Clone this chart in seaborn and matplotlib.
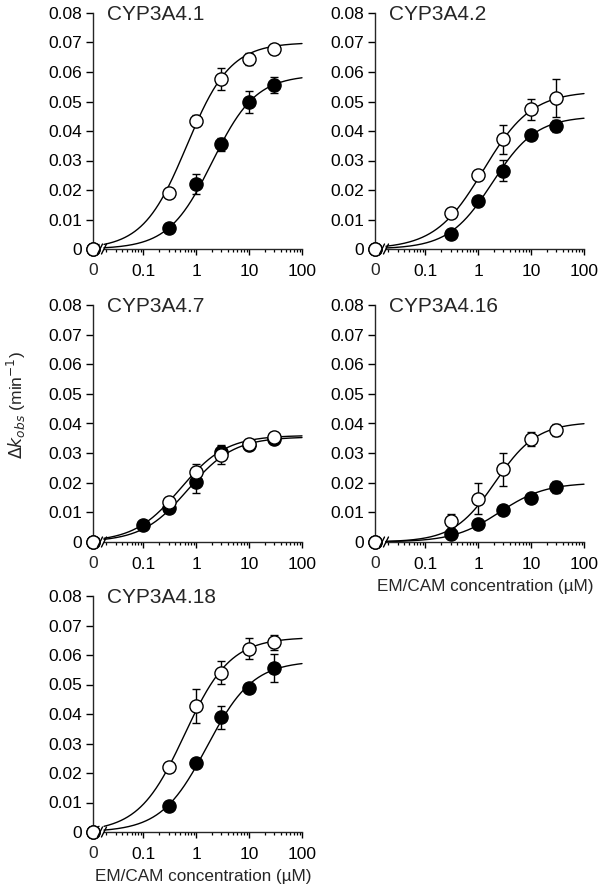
import numpy as np
import pandas as pd
import matplotlib
matplotlib.use("Agg")
import matplotlib.pyplot as plt
import seaborn as sns
from matplotlib.lines import Line2D
from matplotlib.ticker import LogLocator, NullFormatter

# ---------------- data ----------------
panel_names = ["CYP3A4.1", "CYP3A4.2", "CYP3A4.7", "CYP3A4.16", "CYP3A4.18"]
conc = [0, 0.3, 1, 3, 10, 30]
conc_47_filled = [0, 0.1, 0.3, 1, 3, 10, 30]

open_41 = [0, 0.0190, 0.0435, 0.0576, 0.0643, 0.0677]
open_41_err = [0, 0.0010, 0.0018, 0.0036, 0.0020, 0.0015]
filled_41 = [0, 0.0070, 0.0219, 0.0355, 0.0499, 0.0556]
filled_41_err = [0, 0.0008, 0.0034, 0.0022, 0.0038, 0.0028]

open_42 = [0, 0.0121, 0.0252, 0.0372, 0.0473, 0.0513]
open_42_err = [0, 0.0012, 0.0012, 0.0050, 0.0035, 0.0064]
filled_42 = [0, 0.0051, 0.0162, 0.0266, 0.0385, 0.0417]
filled_42_err = [0, 0.0015, 0.0010, 0.0035, 0.0010, 0.0020]

open_47 = [0, 0.0135, 0.0236, 0.0293, 0.0332, 0.0355]
open_47_err = [0, 0.0012, 0.0027, 0.0030, 0.0010, 0.0010]
filled_47 = [0, 0.0059, 0.0115, 0.0202, 0.0304, 0.0328, 0.0348]
filled_47_err = [0, 0.0008, 0.0012, 0.0037, 0.0025, 0.0008, 0.0008]

open_416 = [0, 0.0071, 0.0146, 0.0245, 0.0347, 0.0377]
open_416_err = [0, 0.0025, 0.0052, 0.0055, 0.0024, 0.0020]
filled_416 = [0, 0.0026, 0.0060, 0.0107, 0.0149, 0.0186]
filled_416_err = [0, 0.0010, 0.0010, 0.0010, 0.0010, 0.0020]

open_418 = [0, 0.0222, 0.0427, 0.0540, 0.0622, 0.0643]
open_418_err = [0, 0.0012, 0.0057, 0.0038, 0.0035, 0.0026]
filled_418 = [0, 0.0087, 0.0233, 0.0389, 0.0489, 0.0557]
filled_418_err = [0, 0.0012, 0.0010, 0.0039, 0.0010, 0.0047]

# fitted Hill curve parameters (Vmax, K, n) for open / filled symbols
fit_open = {"CYP3A4.1": (0.0700, 0.66, 1.05), "CYP3A4.2": (0.0535, 1.25, 0.95),
            "CYP3A4.7": (0.0360, 0.50, 1.00), "CYP3A4.16": (0.0405, 2.10, 1.10),
            "CYP3A4.18": (0.0660, 0.60, 1.00)}
fit_filled = {"CYP3A4.1": (0.0590, 2.00, 1.05), "CYP3A4.2": (0.0450, 1.85, 1.05),
              "CYP3A4.7": (0.0355, 0.70, 1.00), "CYP3A4.16": (0.0200, 2.50, 1.00),
              "CYP3A4.18": (0.0580, 1.60, 1.00)}

panel_data = {
    "CYP3A4.1": (conc, open_41, open_41_err, conc, filled_41, filled_41_err),
    "CYP3A4.2": (conc, open_42, open_42_err, conc, filled_42, filled_42_err),
    "CYP3A4.7": (conc, open_47, open_47_err, conc_47_filled, filled_47, filled_47_err),
    "CYP3A4.16": (conc, open_416, open_416_err, conc, filled_416, filled_416_err),
    "CYP3A4.18": (conc, open_418, open_418_err, conc, filled_418, filled_418_err),
}

y_ticks = [0, 0.01, 0.02, 0.03, 0.04, 0.05, 0.06, 0.07, 0.08]
y_ticklabels = ["0", "0.01", "0.02", "0.03", "0.04", "0.05", "0.06", "0.07", "0.08"]
x_major = [0.1, 1, 10, 100]
x_majorlabels = ["0.1", "1", "10", "100"]
x_label = "EM/CAM concentration (µM)"
y_label = r"$\mathit{\Delta k}_{obs}$ (min$^{-1}$)"

# ---------------- style ----------------
sns.set_theme(style="ticks")
plt.rcParams["font.family"] = ["Liberation Sans", "DejaVu Sans"]
plt.rcParams["axes.linewidth"] = 1.0

W, H = 600, 889
fig = plt.figure(figsize=(W / 100, H / 100), dpi=100)


def hill(x, p):
    vmax, k, n = p
    x = np.asarray(x, dtype=float)
    return vmax * x ** n / (k ** n + x ** n)


XMIN = 0.018
# layout in pixels: (y-axis x, top y, bottom y, -, has x label)
layout = {
    "CYP3A4.1": (93, 13, 249, True, False),
    "CYP3A4.2": (375, 13, 249, False, False),
    "CYP3A4.7": (93, 305, 542, True, False),
    "CYP3A4.16": (375, 305, 542, False, True),
    "CYP3A4.18": (93, 596, 832, True, True),
}

for name in panel_names:
    yx, top, bot, _, has_xlabel = layout[name]
    hgt = bot - top
    ax0 = fig.add_axes([yx / W, 1 - bot / H, 6 / W, hgt / H])
    ax1 = fig.add_axes([(yx + 11) / W, 1 - bot / H, 198 / W, hgt / H])
    for ax in (ax0, ax1):
        ax.set_ylim(0, 0.08)
        ax.patch.set_alpha(0)
        for s in ("top", "right"):
            ax.spines[s].set_visible(False)
    ax0.spines["bottom"].set_visible(False)
    ax1.spines["left"].set_visible(False)
    ax0.set_xlim(0, 1)
    ax1.set_xscale("log")
    ax1.set_xlim(XMIN, 100)

    xo, yo, eo, xf, yf, ef = panel_data[name]
    po, pf = fit_open[name], fit_filled[name]

    # fitted curves
    xs = np.logspace(np.log10(XMIN), 2, 400)
    for p in (pf, po):
        sns.lineplot(x=xs, y=hill(xs, p), ax=ax1, color="black", linewidth=1.0,
                     zorder=1, clip_on=False)
        sns.lineplot(x=[0, 1], y=[0, float(hill(XMIN, p))], ax=ax0, color="black",
                     linewidth=1.0, zorder=1, clip_on=False)

    zo = 2
    for (xx, yy, ee, face) in ((xf, yf, ef, "black"), (xo, yo, eo, "white")):
        df = pd.DataFrame({"x": xx, "y": yy, "e": ee})
        pos = df[df.x > 0]
        zero = df[df.x == 0]
        ax1.errorbar(pos.x, pos.y, yerr=pos.e, fmt="none", ecolor="black",
                     elinewidth=1.0, capsize=3.2, capthick=1.0, zorder=zo, clip_on=False)
        sns.scatterplot(data=pos, x="x", y="y", ax=ax1, s=90, color=face,
                        edgecolor="black", linewidth=1.0, zorder=zo + 1, clip_on=False,
                        legend=False)
        sns.scatterplot(data=zero, x="x", y="y", ax=ax0, s=90, color=face,
                        edgecolor="black", linewidth=1.0, zorder=zo + 1, clip_on=False,
                        legend=False)
        zo += 2

    # y axis
    ax0.set_yticks(y_ticks)
    ax0.set_yticklabels(y_ticklabels, fontsize=12.5)
    ax0.tick_params(axis="y", length=5, width=1.0, pad=3, direction="out", colors="black")
    ax1.set_yticks([])
    # x axis
    ax0.set_xticks([0])
    ax0.set_xticklabels(["0"], fontsize=12.5)
    ax0.tick_params(axis="x", length=0, pad=10)
    ax1.set_xticks(x_major)
    ax1.set_xticklabels(x_majorlabels, fontsize=12.5)
    ax1.xaxis.set_minor_locator(LogLocator(base=10, subs=np.arange(2, 10)))
    ax1.xaxis.set_minor_formatter(NullFormatter())
    ax1.tick_params(axis="x", which="major", length=4.5, width=1.0, pad=6,
                    direction="out", colors="black")
    ax1.tick_params(axis="x", which="minor", length=2.2, width=0.9, direction="out",
                    colors="black")
    ax0.set_xlabel("")
    ax0.set_ylabel("")
    ax1.set_ylabel("")
    if has_xlabel:
        ax1.set_xlabel(x_label, fontsize=12.3, labelpad=5)
    else:
        ax1.set_xlabel("")

    ax1.text(3 / 198, 1 - 7 / hgt, name, transform=ax1.transAxes, fontsize=15,
             ha="left", va="baseline")

    # axis break marks
    for cx in (yx + 7, yx + 11):
        fig.add_artist(Line2D([(cx - 2.5) / W, (cx + 2.5) / W],
                              [1 - (bot + 5) / H, 1 - (bot - 5) / H],
                              transform=fig.transFigure, color="black", linewidth=1.0))

fig.text(16 / W, 1 - 405 / H, y_label, rotation=90, ha="center", va="center",
         fontsize=12.5)

fig.savefig("out.png", dpi=100)
